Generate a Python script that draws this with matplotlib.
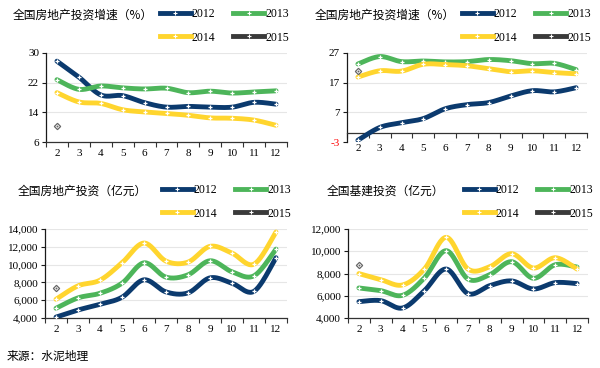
import numpy as np
import matplotlib
matplotlib.use('Agg')
import matplotlib.pyplot as plt
from matplotlib.lines import Line2D
from matplotlib.ticker import FuncFormatter

plt.rcParams['font.family'] = ['Liberation Serif', 'Noto Sans CJK SC']

months = [2, 3, 4, 5, 6, 7, 8, 9, 10, 11, 12]
years = ['2012', '2013', '2014', '2015']
colors = ['#0B3A6E', '#4DB55A', '#FFD52E', '#3A3A3A']

# 全国房地产投资增速（%）
re_growth_2012 = [27.8, 23.5, 18.7, 18.5, 16.6, 15.4, 15.6, 15.4, 15.4, 16.7, 16.2]
re_growth_2013 = [22.8, 20.2, 21.1, 20.6, 20.3, 20.5, 19.3, 19.7, 19.2, 19.5, 19.8]
re_growth_2014 = [19.3, 16.8, 16.4, 14.7, 14.1, 13.7, 13.2, 12.5, 12.4, 11.9, 10.5]
re_growth_2015 = [10.4]

# 全国基建投资增速（%）
inf_growth_2012 = [-2.4, 1.9, 3.5, 4.9, 8.2, 9.6, 10.3, 12.5, 14.3, 13.9, 15.3]
inf_growth_2013 = [23.3, 25.8, 24.1, 24.3, 24.0, 24.1, 24.8, 24.4, 23.4, 23.5, 21.4]
inf_growth_2014 = [18.9, 21.0, 20.9, 23.2, 23.1, 22.7, 21.7, 20.7, 21.0, 20.4, 20.0]
inf_growth_2015 = [21.0]

# 全国房地产投资（亿元）
re_inv_2012 = [4100, 4900, 5540, 6330, 8290, 6930, 6820, 8510, 7910, 7000, 10770]
re_inv_2013 = [5090, 6260, 6780, 7910, 10200, 8590, 8850, 10430, 9190, 8740, 11740]
re_inv_2014 = [6100, 7610, 8250, 10200, 12420, 10390, 10280, 12050, 11290, 10050, 13660]
re_inv_2015 = [7350]

# 全国基建投资（亿元）
inf_inv_2012 = [5470, 5560, 4900, 6460, 8400, 6190, 6910, 7330, 6610, 7180, 7090]
inf_inv_2013 = [6700, 6460, 6040, 7600, 10050, 7500, 7900, 9060, 7570, 8790, 8580]
inf_inv_2014 = [7990, 7450, 6970, 8400, 11250, 8400, 8610, 9780, 8490, 9420, 8400]
inf_inv_2015 = [8800]

panels = [
    dict(title='全国房地产投资增速（%）', series=[re_growth_2012, re_growth_2013, re_growth_2014, re_growth_2015],
         yticks=[6, 14, 22, 30], ylim=(6, 30), fmt='{:.0f}',
         rect=(46, 53, 287, 142), title_xy=(13, 15), leg_xy=(160, 26)),
    dict(title='全国房地产投资增速（%）', series=[inf_growth_2012, inf_growth_2013, inf_growth_2014, inf_growth_2015],
         yticks=[-3, 7, 17, 27], ylim=(-3, 27), fmt='{:.0f}',
         rect=(347, 53, 587, 142), title_xy=(315, 15), leg_xy=(462, 26), zero_axis=True),
    dict(title='全国房地产投资（亿元）', series=[re_inv_2012, re_inv_2013, re_inv_2014, re_inv_2015],
         yticks=[4000, 6000, 8000, 10000, 12000, 14000], ylim=(4000, 14000), fmt='{:,.0f}',
         rect=(45, 229, 287, 318), title_xy=(18, 191), leg_xy=(162, 202)),
    dict(title='全国基建投资（亿元）', series=[inf_inv_2012, inf_inv_2013, inf_inv_2014, inf_inv_2015],
         yticks=[4000, 6000, 8000, 10000, 12000], ylim=(4000, 12000), fmt='{:,.0f}',
         rect=(348, 229, 588, 318), title_xy=(327, 191), leg_xy=(464, 202)),
]

W, H = 600, 368
fig = plt.figure(figsize=(W / 100, H / 100), dpi=100)


def smooth(x, y, n=24):
    x = np.asarray(x, float)
    y = np.asarray(y, float)
    if len(x) < 3:
        return x, y
    P = np.column_stack([x, y])
    P = np.vstack([P[0], P, P[-1]])
    t = np.linspace(0, 1, n)[:, None]
    pts = []
    for i in range(len(x) - 1):
        p0, p1, p2, p3 = P[i], P[i + 1], P[i + 2], P[i + 3]
        c1 = p1 + (p2 - p0) / 6
        c2 = p2 - (p3 - p1) / 6
        b = ((1 - t) ** 3) * p1 + 3 * ((1 - t) ** 2) * t * c1 + 3 * (1 - t) * t ** 2 * c2 + t ** 3 * p2
        pts.append(b if i == 0 else b[1:])
    pts = np.vstack(pts)
    return pts[:, 0], pts[:, 1]


for p in panels:
    l, t, r, b = p['rect']
    ax = fig.add_axes([l / W, 1 - b / H, (r - l) / W, (b - t) / H])
    for i, (yr, vals, c) in enumerate(zip(years, p['series'], colors)):
        xs = months[:len(vals)]
        if len(vals) > 1:
            sx, sy = smooth(xs, vals)
            ax.plot(sx, sy, color=c, lw=3.5, solid_capstyle='round', zorder=3 + i)
            ax.plot(xs, vals, ls='none', marker='+', ms=3.2, mew=0.9, color='white', zorder=3 + i)
        else:
            ax.plot(xs, vals, ls='none', marker='D', ms=3.2, mfc='white', mec='#666666', mew=0.9, zorder=8)
            ax.plot(xs, vals, ls='none', marker='+', ms=2, mew=0.6, color='#666666', zorder=9)

    ax.set_xlim(1.5, 12.5)
    ax.set_ylim(*p['ylim'])
    ax.set_yticks(p['yticks'])
    fmt = p['fmt']
    ax.yaxis.set_major_formatter(FuncFormatter(lambda v, pos, f=fmt: f.format(v)))
    ax.grid(axis='y', color='#E6E6E6', lw=0.8, zorder=0)
    ax.set_axisbelow(True)
    for s in ['top', 'right']:
        ax.spines[s].set_visible(False)
    ax.spines['left'].set_color('#1A1A1A')
    ax.spines['left'].set_linewidth(0.9)
    ax.spines['bottom'].set_color('#333333')
    ax.spines['bottom'].set_linewidth(0.9)
    ax.set_xticks(np.arange(1.5, 13.0, 1.0))
    ax.set_xticklabels([])
    ax.set_xticks(months, minor=True)
    ax.set_xticklabels([str(m) for m in months], minor=True)
    ax.tick_params(axis='x', which='major', direction='out', length=3.5, width=0.8, color='#333333')
    ax.tick_params(axis='y', which='major', direction='out', length=3, width=0.8, color='#1A1A1A',
                   labelsize=8, pad=2)
    if p.get('zero_axis'):
        ax.spines['bottom'].set_position(('data', 0))
        ax.tick_params(axis='x', which='minor', length=0, labelsize=8, pad=8)
        for lab in ax.get_yticklabels():
            if lab.get_text().startswith('-'):
                lab.set_color('red')
    else:
        ax.tick_params(axis='x', which='minor', length=0, labelsize=8, pad=5)

    fig.text(p['title_xy'][0] / W, 1 - p['title_xy'][1] / H, p['title'], fontsize=8.5,
             family=['Noto Sans CJK SC'], va='center', ha='left')
    handles = [Line2D([0], [0], color=c, lw=3.5, marker='+', ms=3, mew=0.8, mec='white')
               for c in colors]
    order = [0, 2, 1, 3]  # row-wise: 2012 2013 / 2014 2015
    fig.legend([handles[k] for k in order], [years[k] for k in order], loc='center left',
               bbox_to_anchor=(p['leg_xy'][0] / W, 1 - p['leg_xy'][1] / H),
               ncol=2, frameon=False, fontsize=8.5, handlelength=2.6, handletextpad=0.1,
               columnspacing=1.5, labelspacing=0.95, borderpad=0, borderaxespad=0)

fig.text(7 / W, 1 - 356 / H, '来源：水泥地理', fontsize=8.5, family=['Noto Sans CJK SC'],
         va='center', ha='left')

fig.savefig('out.png', dpi=100)
